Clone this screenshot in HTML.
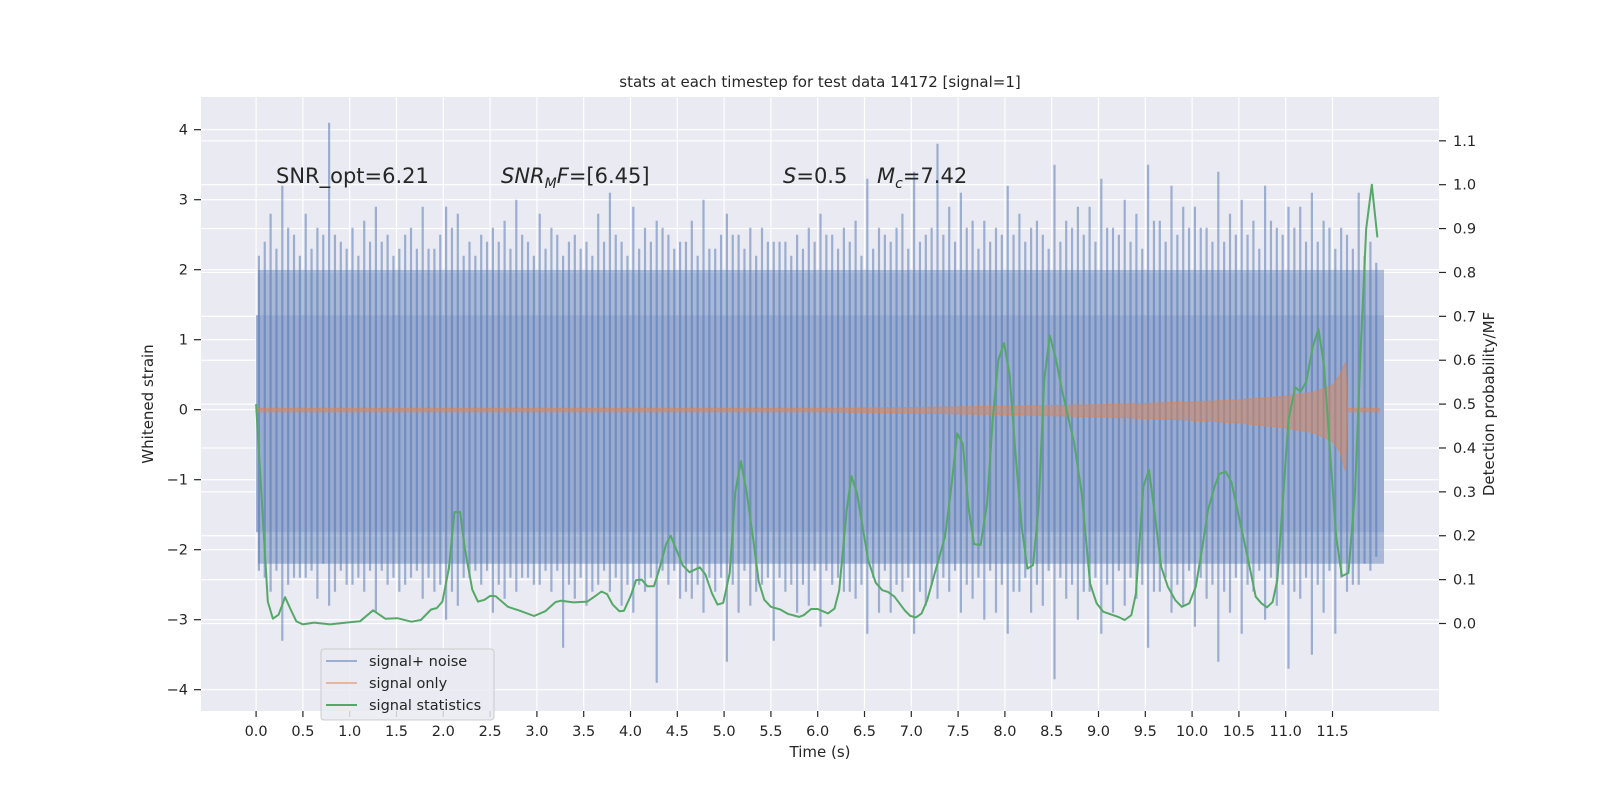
<!DOCTYPE html>
<html><head><meta charset="utf-8"><style>
body{margin:0;background:#fff;}
svg{display:block;font-family:"DejaVu Sans","Liberation Sans",sans-serif;}
</style></head><body>
<svg id="chart" width="1600" height="800" viewBox="0 0 1600 800">
<rect x="0" y="0" width="1600" height="800" fill="#ffffff"/>
<rect x="201" y="97" width="1238" height="614" fill="#eaeaf2"/>
<g id="grid"></g>
<g id="noise"></g>
<g id="signal"></g>
<g id="stats"></g>
<g id="axes"></g>
<text x="820" y="87" text-anchor="middle" font-size="15" fill="#262626">stats at each timestep for test data 14172 [signal=1]</text>
<text x="276" y="183" font-size="21" fill="#262626">SNR_opt=6.21</text>
<text x="501" y="183" font-size="21" fill="#262626"><tspan font-style="italic">SNR</tspan><tspan font-style="italic" font-size="14" dy="5">M</tspan><tspan font-style="italic" dy="-5">F</tspan>=[6.45]</text>
<text x="783" y="183" font-size="21" fill="#262626"><tspan font-style="italic">S</tspan>=0.5</text>
<text x="877" y="183" font-size="21" fill="#262626"><tspan font-style="italic">M</tspan><tspan font-style="italic" font-size="14" dy="5">c</tspan><tspan dy="-5">=7.42</tspan></text>
<text x="820" y="757" text-anchor="middle" font-size="15" fill="#262626">Time (s)</text>
<text transform="translate(153,404) rotate(-90)" text-anchor="middle" font-size="15" fill="#262626">Whitened strain</text>
<text transform="translate(1494,404) rotate(-90)" text-anchor="middle" font-size="15" fill="#262626">Detection probability/MF</text>
<g>
<rect x="321" y="649" width="173" height="71" rx="3" fill="#eaeaf2" fill-opacity="0.85" stroke="#cccccc"/>
<line x1="326" y1="661" x2="357" y2="661" stroke="#4c72b0" stroke-opacity="0.5" stroke-width="2"/>
<text x="369" y="666" font-size="14.5" fill="#262626">signal+ noise</text>
<line x1="326" y1="683" x2="357" y2="683" stroke="#dd8452" stroke-opacity="0.5" stroke-width="2"/>
<text x="369" y="688" font-size="14.5" fill="#262626">signal only</text>
<line x1="326" y1="705" x2="357" y2="705" stroke="#55a868" stroke-width="2"/>
<text x="369" y="710" font-size="14.5" fill="#262626">signal statistics</text>
</g>
</svg>
<script>
// ---- data ----
const xTicks = [0,0.5,1,1.5,2,2.5,3,3.5,4,4.5,5,5.5,6,6.5,7,7.5,8,8.5,9,9.5,10,10.5,11,11.5];
const leftTicks = [-4,-3,-2,-1,0,1,2,3,4];
const rightTicks = [0,0.1,0.2,0.3,0.4,0.5,0.6,0.7,0.8,0.9,1.0,1.1];
const spikeTimesA = [0,0.25,0.5,0.75,1,1.25,1.5,1.75,2,2.25,2.5,2.75,3,3.25,3.5,3.75,4,4.25,4.5,4.75,5,5.25,5.5,5.75,6,6.25,6.5,6.75,7,7.25,7.5,7.75,8,8.25,8.5,8.75,9,9.25,9.5,9.75,10,10.25,10.5,10.75,11,11.25,11.5,11.75];
const spikeUpA = [2.2,3.2,2.8,4.1,2.6,2.9,2.3,2.9,2.9,2.4,2.6,3.0,2.8,2.2,2.4,3.1,2.9,2.7,2.4,3.0,2.8,2.6,2.4,2.5,2.8,2.6,3.3,2.4,3.4,3.8,3.1,2.7,3.2,2.6,3.5,2.9,3.3,3.0,3.5,3.2,2.9,3.4,3.0,3.2,2.9,3.1,2.3,3.1];
const spikeDnA = [-2.3,-3.3,-2.4,-2.8,-2.5,-2.9,-2.6,-2.7,-3.0,-2.4,-2.9,-2.6,-2.5,-3.4,-2.8,-2.6,-2.9,-3.9,-2.7,-2.9,-3.6,-2.8,-3.3,-2.9,-3.1,-2.6,-3.2,-2.9,-3.2,-2.7,-2.9,-3.0,-3.2,-2.9,-3.85,-3.0,-3.2,-2.8,-3.4,-2.9,-3.1,-3.6,-3.2,-3.0,-3.7,-3.5,-3.2,-2.5];
const spikeUpB = [2.8,2.5,2.6,2.4,2.7,2.5,2.6,2.3,2.8,2.5,2.7,2.4,2.6,2.5,2.8,2.4,2.6,2.5,2.7,2.3,2.5,2.6,2.4,2.6,2.5,2.7,2.6,2.8,2.5,2.9,2.7,2.6,2.8,2.5,2.7,2.9,2.6,2.8,2.7,2.9,2.6,2.8,2.7,2.6,2.9,2.7,2.5,2.4];
const spikeDnB = [-2.6,-2.4,-2.7,-2.3,-2.6,-2.5,-2.4,-2.6,-2.8,-2.5,-2.7,-2.4,-2.6,-2.7,-2.5,-2.8,-2.6,-2.5,-2.7,-2.6,-2.9,-2.5,-2.6,-2.8,-2.5,-2.7,-2.9,-2.6,-2.8,-2.6,-2.7,-2.9,-2.6,-2.8,-2.7,-2.6,-2.9,-2.7,-2.6,-2.8,-2.7,-2.9,-2.6,-2.8,-2.7,-2.9,-2.6,-2.3];
const spikeUpC = [2.4,2.6,2.3,2.5,2.2,2.4,2.5,2.3,2.6,2.2,2.4,2.5,2.3,2.4,2.2,2.5,2.3,2.6,2.4,2.3,2.5,2.2,2.4,2.3,2.5,2.4,2.3,2.6,2.4,2.5,2.6,2.4,2.5,2.7,2.4,2.5,2.6,2.4,2.7,2.5,2.6,2.4,2.5,2.7,2.6,2.4,2.6,2.2];
const spikeDnC = [-2.4,-2.5,-2.3,-2.6,-2.4,-2.3,-2.5,-2.4,-2.6,-2.3,-2.5,-2.4,-2.3,-2.5,-2.6,-2.4,-2.5,-2.3,-2.6,-2.4,-2.5,-2.6,-2.4,-2.5,-2.3,-2.6,-2.4,-2.5,-2.6,-2.4,-2.5,-2.3,-2.6,-2.5,-2.4,-2.6,-2.5,-2.4,-2.6,-2.5,-2.4,-2.6,-2.5,-2.4,-2.6,-2.5,-2.4,-2.2];
const spikeUpD = [2.3,2.2,2.5,2.3,2.4,2.2,2.3,2.5,2.2,2.4,2.3,2.2,2.5,2.3,2.4,2.2,2.4,2.3,2.2,2.5,2.3,2.4,2.2,2.4,2.3,2.2,2.5,2.3,2.6,2.4,2.3,2.5,2.4,2.3,2.6,2.4,2.5,2.3,2.4,2.6,2.4,2.5,2.3,2.5,2.4,2.6,2.3,2.1];
const spikeDnD = [-2.3,-2.4,-2.2,-2.5,-2.3,-2.4,-2.3,-2.5,-2.4,-2.3,-2.4,-2.5,-2.3,-2.4,-2.3,-2.5,-2.4,-2.3,-2.5,-2.4,-2.3,-2.4,-2.5,-2.3,-2.4,-2.5,-2.3,-2.4,-2.5,-2.3,-2.4,-2.5,-2.4,-2.3,-2.5,-2.4,-2.3,-2.5,-2.4,-2.3,-2.5,-2.4,-2.3,-2.5,-2.4,-2.3,-2.5,-2.1];
const noiseCore = [-1.75, 1.35];
const noiseFringe = [-2.2, 2.0];
const noiseEnd = 12.05;
const sigTimes = [0,6,7,8,9,10,10.5,11,11.3,11.5,11.58,11.64,11.66,12.0];
const sigUpper = [0.02,0.02,0.03,0.05,0.07,0.11,0.14,0.19,0.25,0.35,0.5,0.68,0.02,0.02];
const sigLower = [-0.03,-0.03,-0.05,-0.07,-0.10,-0.15,-0.19,-0.26,-0.33,-0.45,-0.6,-0.88,-0.03,-0.03];
const statT = [0,0.125,0.18,0.24,0.31,0.37,0.43,0.5,0.62,0.79,0.96,1.11,1.25,1.38,1.51,1.66,1.76,1.87,1.93,1.99,2.06,2.12,2.18,2.23,2.31,2.37,2.44,2.5,2.56,2.69,2.82,2.97,3.09,3.2,3.26,3.39,3.54,3.62,3.69,3.75,3.81,3.88,3.93,4.0,4.06,4.12,4.18,4.25,4.3,4.38,4.43,4.49,4.56,4.63,4.74,4.8,4.87,4.93,4.99,5.06,5.12,5.18,5.24,5.31,5.37,5.43,5.5,5.6,5.68,5.8,5.85,5.93,6.0,6.11,6.18,6.23,6.31,6.36,6.42,6.54,6.62,6.69,6.75,6.82,6.93,6.99,7.05,7.11,7.17,7.25,7.36,7.42,7.49,7.55,7.61,7.67,7.74,7.81,7.87,7.93,7.99,8.05,8.11,8.18,8.24,8.3,8.36,8.42,8.48,8.54,8.61,8.74,8.82,8.91,8.98,9.05,9.21,9.28,9.35,9.4,9.48,9.54,9.6,9.67,9.74,9.82,9.89,9.97,10.04,10.11,10.17,10.24,10.29,10.36,10.42,10.5,10.6,10.68,10.74,10.8,10.86,10.91,10.97,11.03,11.1,11.16,11.22,11.29,11.35,11.41,11.48,11.54,11.6,11.67,11.74,11.8,11.86,11.92,11.98];
const statP = [0.5,0.05,0.011,0.02,0.06,0.032,0.005,-0.002,0.002,-0.002,0.002,0.005,0.03,0.011,0.012,0.004,0.008,0.032,0.035,0.05,0.126,0.254,0.254,0.171,0.077,0.05,0.054,0.063,0.062,0.038,0.029,0.017,0.028,0.049,0.052,0.048,0.05,0.062,0.073,0.067,0.043,0.028,0.029,0.062,0.099,0.1,0.085,0.085,0.118,0.181,0.2,0.168,0.132,0.117,0.128,0.112,0.069,0.043,0.047,0.115,0.3,0.37,0.3,0.194,0.096,0.054,0.038,0.032,0.022,0.015,0.019,0.033,0.033,0.023,0.034,0.076,0.259,0.336,0.297,0.144,0.093,0.076,0.072,0.061,0.03,0.017,0.014,0.023,0.053,0.114,0.198,0.297,0.433,0.409,0.266,0.181,0.179,0.274,0.464,0.6,0.639,0.567,0.395,0.221,0.125,0.133,0.266,0.555,0.656,0.608,0.532,0.411,0.297,0.091,0.046,0.027,0.015,0.008,0.019,0.068,0.312,0.35,0.251,0.129,0.084,0.053,0.038,0.046,0.084,0.175,0.259,0.312,0.341,0.346,0.323,0.243,0.144,0.061,0.046,0.037,0.049,0.099,0.281,0.464,0.538,0.529,0.551,0.631,0.671,0.586,0.373,0.198,0.108,0.115,0.3,0.62,0.9,1.0,0.88];

// ---- scales ----
const X0 = 256.1, XPS = 93.6;
function xs(t){ return X0 + t*XPS; }
function yl(v){ return 409.7 - v*70; }
function yr(p){ return 623.5 - p*438.8; }
const NS = 'http://www.w3.org/2000/svg';
function mk(tag, attrs, parent){ const e=document.createElementNS(NS,tag); for(const k in attrs) e.setAttribute(k,attrs[k]); parent.appendChild(e); return e; }

const grid = document.getElementById('grid');
const axes = document.getElementById('axes');
xTicks.forEach(function(t){
  const g = mk('line',{x1:xs(t),x2:xs(t),y1:97,y2:711,stroke:'#ffffff','stroke-width':1.2},grid);
  
  
  const tk = mk('line',{x1:xs(t),x2:xs(t),y1:711,y2:717,stroke:'#262626','stroke-width':1.2},axes);
  
  
  const lb = mk('text',{x:xs(t),y:736,'text-anchor':'middle','font-size':14.5,fill:'#262626'},axes);
  lb.textContent = t.toFixed(1);
  
  
});
leftTicks.forEach(function(v){
  const g = mk('line',{x1:201,x2:1439,y1:yl(v),y2:yl(v),stroke:'#ffffff','stroke-width':1.2},grid);
  
  
  const tk = mk('line',{x1:194,x2:201,y1:yl(v),y2:yl(v),stroke:'#262626','stroke-width':1.2},axes);
  
  
  const lb = mk('text',{x:188,y:yl(v)+5,'text-anchor':'end','font-size':14.5,fill:'#262626'},axes);
  lb.textContent = v<0 ? '\u2212'+Math.abs(v) : String(v);
  
  
});
rightTicks.forEach(function(p){
  const g = mk('line',{x1:201,x2:1439,y1:yr(p),y2:yr(p),stroke:'#ffffff','stroke-width':1.2},grid);
  
  
  const tk = mk('line',{x1:1439,x2:1446,y1:yr(p),y2:yr(p),stroke:'#262626','stroke-width':1.2},axes);
  
  
  const lb = mk('text',{x:1453,y:yr(p)+5,'font-size':14.5,fill:'#262626'},axes);
  lb.textContent = p.toFixed(1);
  
  
});

// noise
const noise = document.getElementById('noise');
const blue = '#4c72b0';
const fr = mk('rect',{x:xs(0.02),y:yl(noiseFringe[1]),width:xs(noiseEnd)-xs(0.02),height:yl(noiseFringe[0])-yl(noiseFringe[1]),fill:blue,'fill-opacity':0.42},noise);


const core = mk('rect',{x:xs(0),y:yl(noiseCore[1]),width:xs(noiseEnd)-xs(0),height:yl(noiseCore[0])-yl(noiseCore[1]),fill:'#99abd0'},noise);


function spikes(times, up, dn, off){
  times.forEach(function(t,i){
    const tt = t+off+0.03;
    const a = mk('line',{x1:xs(tt),x2:xs(tt),y1:yl(up[i]),y2:yl(dn[i]),stroke:blue,'stroke-opacity':0.5,'stroke-width':2.2},noise);
    
    
  });
}
spikes(spikeTimesA, spikeUpA, spikeDnA, 0);
spikes(spikeTimesA, spikeUpB, spikeDnB, 0.125);
spikes(spikeTimesA, spikeUpC, spikeDnC, 0.0625);
spikes(spikeTimesA, spikeUpD, spikeDnD, 0.1875);

// signal only
const sg = document.getElementById('signal');
let d = '';
sigTimes.forEach(function(t,i){ d += (i?'L':'M') + xs(t).toFixed(1)+','+yl(sigUpper[i]).toFixed(1); });
for(let i=sigTimes.length-1;i>=0;i--){ d += 'L'+xs(sigTimes[i]).toFixed(1)+','+yl(sigLower[i]).toFixed(1); }
const sp = mk('path',{d:d+'Z',fill:'#dd8452','fill-opacity':0.5,stroke:'#dd8452','stroke-opacity':0.5,'stroke-width':1.2},sg);



// stats
const st = document.getElementById('stats');
let d2 = '';
statT.forEach(function(t,i){ d2 += (i?'L':'M') + xs(t).toFixed(1)+','+yr(statP[i]).toFixed(1); });
const sl = mk('path',{d:d2,fill:'none',stroke:'#55a868','stroke-width':2,'stroke-linejoin':'round'},st);


</script>
</body></html>
